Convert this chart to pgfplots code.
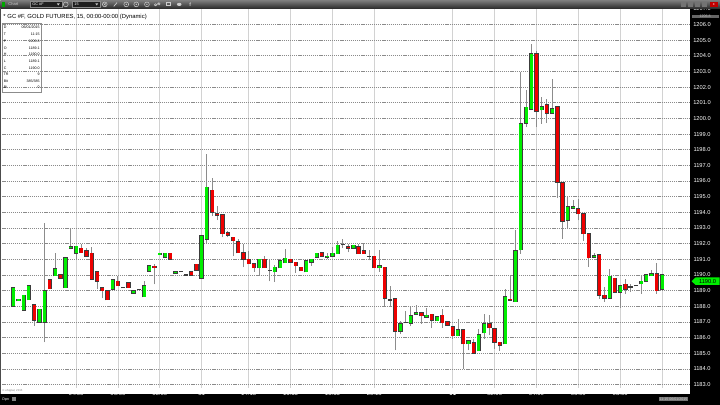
\documentclass[border=0pt]{standalone}
\usepackage{fontspec}
\setmainfont{Liberation Sans}
\usepackage{pgfplots}
\usepackage{pgfplotstable}
\pgfplotsset{compat=1.18}
\definecolor{cgreen}{HTML}{00EE00}
\definecolor{cred}{HTML}{EE0000}
\definecolor{outl}{HTML}{3C3C3C}
\definecolor{wickc}{HTML}{8C8C8C}
\definecolor{hgrid}{HTML}{8A8A8A}
\definecolor{vgrid}{HTML}{D2D2D2}

\pgfplotstableread{
i O H L C
0 1188.0 1189.2 1188.0 1189.2
1 1188.35 1188.45 1188.35 1188.45
2 1187.74 1188.7 1187.74 1188.7
3 1188.42 1189.3 1188.42 1189.3
5 1187.0 1187.8 1187.0 1187.8
6 1187.0 1193.3 1185.7 1189.0
8 1189.94 1191.4 1189.94 1190.4
10 1189.2 1191.1 1189.2 1191.1
11 1191.7 1193.0 1191.7 1191.8
12 1191.4 1191.83 1191.0 1191.83
19 1189.1 1189.68 1189.1 1189.68
21 1189.2 1189.2 1189.2 1189.2
23 1188.85 1189.0 1188.85 1189.0
24 1189.1 1189.1 1189.1 1189.1
25 1188.6 1189.6 1188.6 1189.32
26 1190.23 1190.6 1190.23 1190.6
28 1191.3 1191.4 1191.3 1191.4
29 1191.12 1191.4 1191.12 1191.4
31 1190.12 1190.2 1190.12 1190.2
32 1190.2 1190.2 1190.2 1190.2
33 1190.0 1190.0 1190.0 1190.0
36 1189.8 1192.5 1189.8 1192.5
37 1192.3 1197.74 1192.04 1195.6
47 1190.45 1191.0 1190.0 1191.0
49 1190.3 1190.98 1189.6 1190.3
50 1190.2 1190.66 1189.55 1190.5
51 1190.45 1190.9 1190.45 1190.9
52 1190.78 1191.68 1190.78 1191.08
56 1190.2 1190.9 1190.2 1190.9
57 1190.8 1191.0 1190.6 1191.0
58 1191.12 1191.4 1191.12 1191.4
60 1191.12 1191.4 1191.0 1191.19
61 1191.2 1191.8 1191.2 1191.4
62 1191.36 1192.17 1191.36 1191.9
63 1191.93 1192.3 1191.7 1191.93
65 1191.72 1191.9 1191.72 1191.9
68 1191.2 1191.57 1190.93 1191.2
70 1190.45 1191.6 1190.2 1190.6
72 1188.4 1189.3 1187.96 1188.4
74 1186.4 1187.06 1186.23 1186.9
75 1186.94 1187.7 1186.94 1186.94
76 1186.91 1187.96 1186.72 1187.4
77 1187.49 1188.06 1187.49 1187.6
79 1187.32 1187.9 1187.32 1187.42
81 1187.08 1187.32 1187.08 1187.32
85 1186.13 1187.2 1186.13 1186.5
87 1185.6 1185.81 1185.19 1185.81
89 1185.15 1186.57 1185.15 1186.19
90 1186.32 1187.53 1185.94 1186.9
94 1185.6 1189.1 1185.6 1188.6
96 1188.3 1192.9 1188.3 1191.53
97 1191.6 1202.95 1191.36 1199.65
98 1199.7 1201.8 1199.44 1200.72
99 1200.6 1204.76 1200.6 1204.12
101 1200.55 1201.36 1199.65 1200.74
103 1200.34 1202.5 1200.34 1200.6
106 1193.48 1194.98 1192.96 1194.34
107 1194.26 1194.76 1194.26 1194.34
111 1191.15 1191.4 1191.15 1191.23
114 1188.5 1190.4 1188.5 1189.91
116 1188.91 1189.32 1187.9 1189.32
118 1189.23 1189.4 1188.9 1189.23
119 1189.3 1189.3 1189.3 1189.3
120 1189.44 1190.0 1188.8 1189.6
121 1189.6 1190.02 1189.6 1190.02
122 1189.96 1190.3 1189.96 1190.08
124 1189.1 1190.0 1189.1 1190.0
}\greendata

\pgfplotstableread{
i O H L C
4 1188.1 1188.1 1186.75 1187.1
7 1189.7 1189.7 1189.13 1189.13
9 1190.02 1190.02 1189.8 1189.8
13 1191.7 1192.0 1191.42 1191.42
14 1191.53 1191.74 1191.2 1191.2
15 1191.4 1191.8 1189.72 1189.72
16 1190.2 1190.2 1189.1 1189.6
17 1189.19 1189.19 1188.5 1189.0
18 1188.98 1188.98 1188.42 1188.42
20 1189.6 1189.94 1189.3 1189.3
22 1189.5 1189.5 1189.2 1189.2
27 1190.55 1190.72 1189.4 1190.47
30 1191.38 1191.38 1191.0 1191.0
34 1190.2 1190.2 1190.0 1190.0
35 1190.68 1190.68 1190.3 1190.3
38 1195.4 1196.2 1193.74 1194.0
39 1193.9 1194.4 1193.5 1193.8
40 1193.85 1193.85 1192.4 1192.64
41 1192.68 1192.8 1192.4 1192.53
42 1192.4 1192.4 1191.2 1192.2
43 1192.12 1192.3 1191.42 1191.42
44 1191.42 1192.0 1190.5 1191.0
45 1191.0 1191.5 1190.72 1190.72
46 1190.72 1190.72 1190.2 1190.45
48 1191.0 1191.2 1190.45 1190.45
53 1191.0 1191.0 1190.8 1190.8
54 1190.8 1190.8 1190.13 1190.6
55 1190.5 1190.5 1190.27 1190.27
59 1191.42 1191.42 1191.2 1191.2
64 1191.79 1192.0 1191.45 1191.7
66 1191.79 1192.0 1191.36 1191.36
67 1191.53 1192.0 1191.36 1191.36
69 1191.2 1191.2 1190.45 1190.45
71 1190.5 1190.5 1188.0 1188.53
73 1188.49 1188.49 1185.19 1186.4
78 1187.6 1187.6 1186.9 1187.4
80 1187.49 1187.49 1186.6 1187.1
82 1187.42 1187.8 1186.64 1186.94
83 1187.02 1187.02 1186.8 1186.8
84 1186.7 1186.7 1185.92 1186.13
86 1186.5 1186.5 1184.02 1185.6
88 1185.68 1185.9 1185.02 1185.02
91 1186.9 1187.42 1186.15 1186.62
92 1186.57 1186.57 1185.3 1185.72
93 1185.7 1185.7 1185.15 1185.5
95 1188.44 1190.0 1188.38 1188.38
100 1204.12 1204.3 1199.44 1200.44
102 1200.85 1201.25 1199.7 1200.34
104 1200.74 1200.74 1194.93 1195.93
105 1195.9 1195.9 1192.32 1193.42
108 1194.23 1194.87 1193.48 1193.9
109 1193.9 1193.9 1192.17 1192.64
110 1192.64 1192.64 1190.5 1191.1
112 1191.3 1191.3 1188.49 1188.7
113 1188.7 1189.23 1188.3 1188.5
115 1189.78 1189.78 1188.9 1188.9
117 1189.4 1189.76 1188.8 1189.1
123 1190.08 1190.77 1188.8 1189.0
}\reddata

\begin{document}
\begin{tikzpicture}[x=1pt,y=1pt]
\fill[white] (0,0) rectangle (720,405);
\fill[black] (690,0) rectangle (720,396);
\fill[black] (0,0) rectangle (720,11);
\begin{axis}[
  at={(0,11)}, anchor=south west,
  scale only axis, width=690pt, height=385pt,
  xmin=-2.484, xmax=129.35, ymin=1182.81, ymax=1207.38,
  axis line style={draw=none},
  major tick length=0pt,
  xtick={12,20,28,36,45,53,61,69,84,92,100,108,116,124},
  xticklabels={04:00,06:00,08:00,31,14:15,16:15,18:15,20:15,\textbf{01},02:00,04:00,06:00,08:00,{}},
  ytick={1183,1184,...,1207},
  yticklabel pos=right,
  ymajorgrids, xmajorgrids,
  y grid style={hgrid, dash pattern=on 1.2pt off 0.9pt, line width=0.6pt},
  x grid style={vgrid, line width=0.8pt},
  /pgf/number format/assume math mode=true,
  yticklabel style={/pgf/number format/fixed, /pgf/number format/fixed zerofill, /pgf/number format/precision=1, /pgf/number format/1000 sep={}, font=\fontsize{5.7}{6}\selectfont, text=white, anchor=center, inner sep=0pt, xshift=12pt},
  xticklabel style={font=\fontsize{6}{7}\selectfont, text=white, anchor=center, inner sep=0pt, yshift=-6pt},
]
% wicks
\addplot[draw=none, mark=none, forget plot, error bars/.cd, y dir=plus, y explicit, error mark=none, error bar style={draw=wickc, solid, line width=0.9pt}]
  table[x=i, y=L, y error plus expr=\thisrow{H}-\thisrow{L}] {\greendata};
\addplot[draw=none, mark=none, forget plot, error bars/.cd, y dir=plus, y explicit, error mark=none, error bar style={draw=wickc, solid, line width=0.9pt}]
  table[x=i, y=L, y error plus expr=\thisrow{H}-\thisrow{L}] {\reddata};
% body outlines
\addplot[draw=none, mark=none, forget plot, error bars/.cd, y dir=plus, y explicit, error mark=none, error bar style={draw=outl, solid, line width=4.3pt}]
  table[x=i, y expr=\thisrow{O}-0.035, y error plus expr=\thisrow{C}-\thisrow{O}+0.07] {\greendata};
\addplot[draw=none, mark=none, forget plot, error bars/.cd, y dir=plus, y explicit, error mark=none, error bar style={draw=outl, solid, line width=4.3pt}]
  table[x=i, y expr=\thisrow{C}-0.035, y error plus expr=\thisrow{O}-\thisrow{C}+0.07] {\reddata};
% bodies
\addplot[draw=none, mark=none, forget plot, error bars/.cd, y dir=plus, y explicit, error mark=none, error bar style={draw=cgreen, solid, line width=3.0pt}]
  table[x=i, y=O, y error plus expr=\thisrow{C}-\thisrow{O}] {\greendata};
\addplot[draw=none, mark=none, forget plot, error bars/.cd, y dir=plus, y explicit, error mark=none, error bar style={draw=cred, solid, line width=3.0pt}]
  table[x=i, y=C, y error plus expr=\thisrow{O}-\thisrow{C}] {\reddata};
\end{axis}
% left border
\draw[black!70, line width=1.2pt] (0.6,11) -- (0.6,396);
% toolbar
\shade[top color=black!50, bottom color=black!85] (0,396) rectangle (720,405);
\fill[green!65!black] (1.8,397.8) rectangle (4.6,403.2);
\node[anchor=west, inner sep=0pt, text=white!80!black, font=\fontsize{4}{4}\selectfont] at (8,400.5) {Chart};
\draw[black!45, fill=black!88, line width=0.4pt] (30,397.6) rectangle (61.5,403.6);
\node[anchor=west, inner sep=0pt, text=white, font=\fontsize{3.8}{4}\selectfont] at (32,400.6) {GC \#F};
\fill[white!80!black] (56.5,401.6) -- (59.5,401.6) -- (58,399.6) -- cycle;
\draw[white!80!black, line width=0.5pt] (65.5,400.6) circle (2.4);
\draw[black!45, fill=black!88, line width=0.4pt] (71.5,397.6) rectangle (100,403.6);
\node[anchor=west, inner sep=0pt, text=white, font=\fontsize{3.8}{4}\selectfont] at (74,400.6) {15};
\fill[white!80!black] (95,401.6) -- (98,401.6) -- (96.5,399.6) -- cycle;
\draw[white!80!black, line width=0.5pt] (104.5,400.6) circle (2.4);
\draw[white!80!black, line width=0.4pt] (103.3,399.4) -- (105.7,401.8) (103.3,401.8) -- (105.7,399.4);
\draw[white!80!black, line width=0.7pt] (113.5,398.6) -- (116.8,402.4);
\foreach \xx in {126,136,146.7} {\draw[white!80!black, line width=0.5pt] (\xx,400.6) circle (2.4); \fill[white!80!black] (\xx,400.6) circle (0.7);}
\draw[white!80!black, line width=0.6pt] (155.5,399.2) -- (158.5,402.2);
\draw[white!80!black, line width=0.5pt] (155.2,400.2) circle (1.1) (158.8,401.2) circle (1.1);
\draw[white!80!black, line width=0.5pt] (166,399.3) rectangle (170.5,402.6);
\fill[white!80!black] (179,400.6) ellipse (2.3 and 1.6);
\node[inner sep=0pt, text=white!80!black, font=\bfseries\fontsize{5}{5}\selectfont] at (190,400.6) {f};
\foreach \xx in {681,688,695,702} {\fill[black!55] (\xx,398) rectangle ++(5,5);}
\fill[red!75!black] (709.5,398) rectangle (718,403);
\node[inner sep=0pt, text=white, font=\fontsize{3.6}{4}\selectfont] at (713.7,400.5) {x};
% title
\node[anchor=west, inner sep=0pt, font=\fontsize{5.9}{6}\selectfont] at (3,388) {* GC \#F, GOLD FUTURES, 15, 00:00-00:00 (Dynamic)};
% info box
\draw[black!45, line width=0.4pt] (2,382) rectangle (40.5,313);
\foreach \lab/\val/\yy in {D/06\slash 01\slash 2015/378, T/11:15/371, P/1206.8/364, O/1189.1/357, H/1190.0/350.5, L/1189.1/344, C/1190.0/337, TR/9/330.5, Bit/385\slash 385/324, Bi/0/317.5} {
  \node[anchor=west, inner sep=0pt, font=\fontsize{3.6}{4}\selectfont] at (3.3,\yy) {\lab};
  \node[anchor=east, inner sep=0pt, font=\fontsize{3.6}{4}\selectfont] at (39.5,\yy) {\val};
}
% current price marker
\fill[cgreen] (691.5,123.7) -- (695.5,127.4) -- (719.5,127.4) -- (719.5,120) -- (695.5,120) -- cycle;
\node[inner sep=0pt, font=\fontsize{5.7}{6}\selectfont] at (707.5,123.7) {1190.0};
% high marker box
\fill[black!60] (691.5,386.8) rectangle (718.5,390.2);
\node[inner sep=0pt, text=white!75!black, font=\fontsize{3.6}{4}\selectfont] at (705,388.5) {1206.8};
% bottom texts
\node[anchor=west, inner sep=0pt, text=white, font=\fontsize{3.6}{4}\selectfont] at (2,5.5) {Dpn};
\fill[black!50] (12,3.5) rectangle (16,7.5);
\node[anchor=west, inner sep=0pt, text=black!50, font=\fontsize{2.8}{3}\selectfont] at (2,14) {© eSignal, 2015};
\node[fill=black!55, text=white!80!black, inner sep=0.8pt, font=\fontsize{3.6}{4}\selectfont] at (673.5,5.5) {11:15 06/01/2015};
\end{tikzpicture}
\end{document}
